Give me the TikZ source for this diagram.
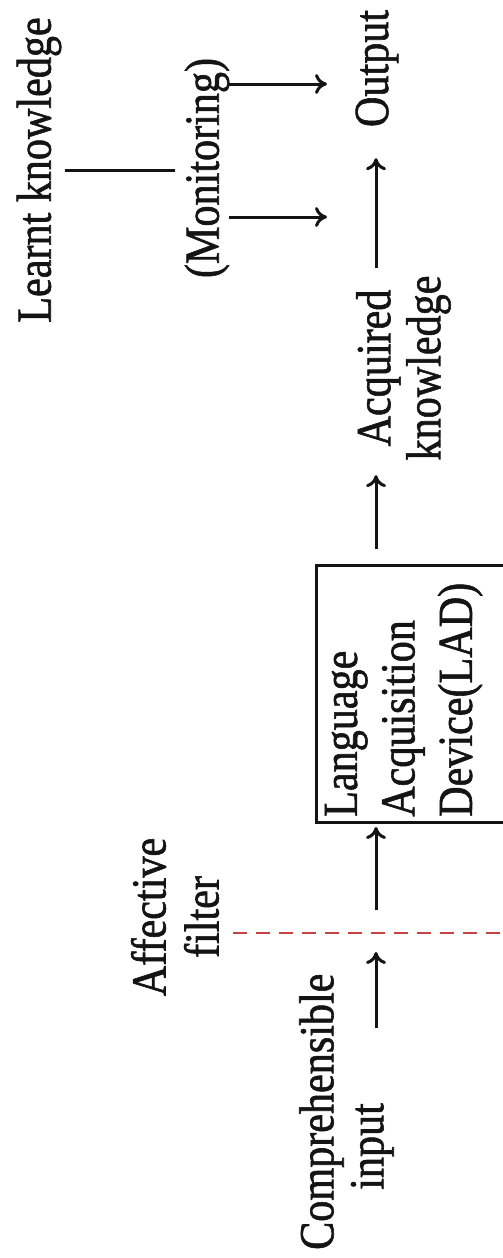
\documentclass[tikz,border=0pt]{standalone}
\usepackage{fontspec}
\setmainfont{Liberation Serif}[FakeStretch=0.86,FakeBold=1.2]
\usetikzlibrary{arrows.meta}
\definecolor{filterred}{RGB}{196,66,66}
\definecolor{ink}{RGB}{20,20,20}
\begin{document}
\begin{tikzpicture}[x=1pt,y=1pt,
  lbl/.style={inner sep=0pt, text=ink, font=\fontsize{49}{50}\selectfont},
  arr/.style={line width=3pt, draw=ink, -{Computer Modern Rightarrow[length=12pt,width=20pt]}},
  ln/.style={line width=3pt, draw=ink},
  filterline/.style={line width=2.6pt, draw=filterred, dash pattern=on 14pt off 9pt},
  ladbox/.style={draw=ink, line width=2.8pt, minimum width=257pt, minimum height=210pt, inner sep=0pt}]
\useasboundingbox (0,0) rectangle (503,-1258);
\clip (0,0) rectangle (503,-1258);
\begin{scope}[shift={(503,-1258)}, rotate=90, transform shape]
  % text nodes (natural frame: U along reading direction, V upward)
  \node[lbl, anchor=west, align=left, font=\fontsize{49}{50}\selectfont] (cin) at (8,156.5) {Comprehensible\\\hspace*{60pt}input};
  \node[lbl, align=center, font=\fontsize{49}{53}\selectfont] (aff) at (341,328) {Affective\\filter};
  \node[ladbox, anchor=south west] (lad) at (434,-25) {};
  \node[lbl, anchor=west, align=left, font=\fontsize{49}{57.5}\selectfont] (ladtxt) at (441,99.4) {Language\\Acquisition\\Device(LAD)};
  \node[lbl, align=center, font=\fontsize{49}{50}\selectfont] (acq) at (890,99.5) {Acquired\\knowledge};
  \node[lbl] (out) at (1189.5,126) {Output};
  \node[lbl] (lk) at (1088,464) {Learnt knowledge};
  \node[lbl] (mon) at (1090,296) {(Monitoring)};
  % helper coordinates
  \coordinate (filt) at (325,127);
  \coordinate (ci) at (230,127);
  \coordinate (ftop) at (325,270);
  \coordinate (fbot) at (325,-20);
  \coordinate (m1) at (1041,176);
  \coordinate (m2) at (1174,176);
  % connectors
  \draw[filterline] (ftop) -- (fbot);
  \draw[arr, shorten >=19pt] (ci) -- (filt);
  \draw[arr, shorten <=23pt, shorten >=3pt] (filt) -- (lad.west |- filt);
  \draw[arr, shorten <=15pt, shorten >=14.5pt] (lad.east |- filt) -- (acq.west |- filt);
  \draw[arr, shorten <=7.5pt, shorten >=31pt] (acq.east |- filt) -- (out.west |- filt);
  \draw[ln, shorten <=4pt, shorten >=10pt] (lk.south) -- (lk.south |- mon.north);
  \draw[arr] (m1 |- mon.south) -- (m1);
  \draw[arr] (m2 |- mon.south) -- (m2);
\end{scope}
\end{tikzpicture}
\end{document}
